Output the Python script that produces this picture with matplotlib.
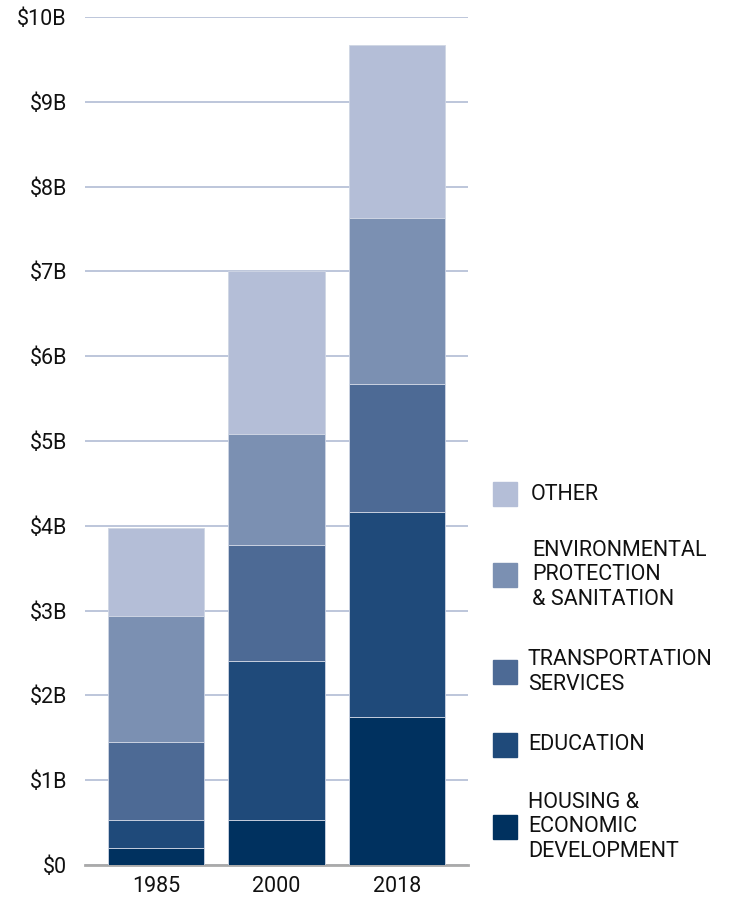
import matplotlib.pyplot as plt
from matplotlib.patches import Rectangle
import numpy as np

plt.rcParams['font.family'] = ['Roboto', 'DejaVu Sans']

years = ['1985', '2000', '2018']
categories = ['HOUSING &\nECONOMIC\nDEVELOPMENT', 'EDUCATION', 'TRANSPORTATION\nSERVICES',
              'ENVIRONMENTAL\nPROTECTION\n& SANITATION', 'OTHER']
housing = [0.20, 0.53, 1.74]
education = [0.33, 1.88, 2.42]
transportation = [0.92, 1.36, 1.51]
environmental = [1.49, 1.31, 1.96]
other = [1.03, 1.93, 2.04]
colors = ['#00315f', '#1f4a7a', '#4d6a95', '#7b90b2', '#b4bed7']
ticks = [0, 1, 2, 3, 4, 5, 6, 7, 8, 9, 10]
tick_labels = ['$0'] + ['$%dB' % t for t in ticks[1:]]

fig = plt.figure(figsize=(7.38, 9.01), dpi=100)
ax = fig.add_axes([85 / 738, 36 / 901, 383 / 738, 848 / 901])

series = [housing, education, transportation, environmental, other]
x = np.arange(len(years))
bottom = np.zeros(len(years))
for vals, c in zip(series, colors):
    ax.bar(x, vals, 0.8, bottom=bottom, color=c, edgecolor='#cfd6e4', linewidth=0.6, zorder=3)
    bottom += np.array(vals)

ax.set_xlim(-0.59, 2.59)
ax.set_ylim(0, 10)
ax.set_yticks(ticks)
ax.set_yticklabels(tick_labels)
ax.yaxis.grid(True, color='#b8c2d8', linewidth=1.3, zorder=0)
ax.set_axisbelow(True)
ax.set_xticks(x)
ax.set_xticklabels(years)
ax.tick_params(axis='both', length=0, labelsize=15.5, colors='#111111')
ax.tick_params(axis='y', pad=13)
ax.tick_params(axis='x', pad=8)
for s in ['top', 'right', 'left']:
    ax.spines[s].set_visible(False)
ax.spines['bottom'].set_color('#aaaaaa')
ax.spines['bottom'].set_linewidth(2)

# legend, drawn by hand: square centre y and text x in pixels
leg_y = [827, 745, 672, 575, 494]
text_x = [528, 528, 528, 532, 531]
for lab, c, yy, tx in zip(categories, colors, leg_y, text_x):
    fig.add_artist(Rectangle((493 / 738, (901 - yy - 12) / 901), 24 / 738, 24 / 901,
                             transform=fig.transFigure, color=c))
    fig.text(tx / 738, (901 - yy) / 901, lab, ha='left', va='center', fontsize=15.5,
             color='#111111', linespacing=1.2)

fig.savefig('out.png', dpi=100)
